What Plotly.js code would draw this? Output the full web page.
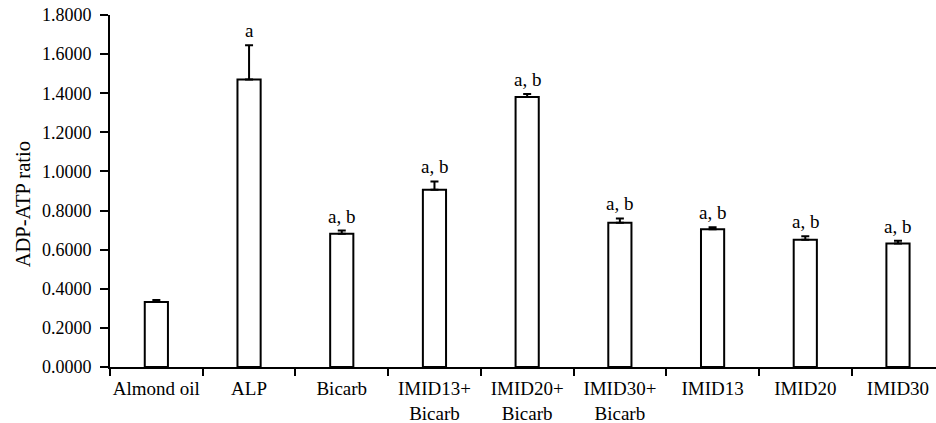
<!DOCTYPE html>
<html>
<head>
<meta charset="utf-8">
<script src="https://cdn.plot.ly/plotly-3.0.1.min.js"></script>
<style>
  html, body { margin: 0; padding: 0; background: #fff; overflow: hidden; }
  #chart { width: 936px; height: 423px; }
</style>
</head>
<body>
<div id="chart"></div>
<script>
const categories = ["Almond oil", "ALP", "Bicarb", "IMID13+<br>Bicarb", "IMID20+<br>Bicarb", "IMID30+<br>Bicarb", "IMID13", "IMID20", "IMID30"];
const ratioValues = [0.333, 1.470, 0.682, 0.907, 1.381, 0.738, 0.704, 0.651, 0.631];
const ratioErrors = [0.010, 0.175, 0.016, 0.042, 0.015, 0.022, 0.010, 0.018, 0.015];
const significance = ["", "a", "a, b", "a, b", "a, b", "a, b", "a, b", "a, b", "a, b"];
const yTicks = [0, 0.2, 0.4, 0.6, 0.8, 1.0, 1.2, 1.4, 1.6, 1.8];
const yTitle = "ADP-ATP ratio";

const font = { family: "Liberation Serif, Times New Roman, serif", color: "#000" };

const trace = {
  type: "bar",
  x: categories,
  y: ratioValues,
  width: 0.25,
  marker: { color: "#ffffff", line: { color: "#000000", width: 2 } },
  error_y: {
    type: "data",
    array: ratioErrors,
    arrayminus: ratioErrors.map(() => 0),
    symmetric: false,
    color: "#000000",
    thickness: 2,
    width: 4
  },
  hoverinfo: "x+y"
};

const annotations = categories.map((c, i) => ({
  x: c,
  y: ratioValues[i] + ratioErrors[i],
  xref: "x",
  yref: "y",
  text: significance[i],
  showarrow: false,
  yanchor: "bottom",
  yshift: 2,
  font: Object.assign({ size: 19 }, font)
})).filter(a => a.text !== "");

annotations.push({
  xref: "paper",
  yref: "paper",
  x: -0.105,
  y: 0.463,
  xanchor: "center",
  yanchor: "middle",
  textangle: -90,
  showarrow: false,
  text: yTitle,
  font: Object.assign({ size: 20.5 }, font)
});

const layout = {
  width: 936,
  height: 423,
  margin: { l: 110, r: 0, t: 15, b: 56, pad: 0 },
  paper_bgcolor: "#ffffff",
  plot_bgcolor: "#ffffff",
  showlegend: false,
  font: Object.assign({ size: 18 }, font),
  xaxis: {
    type: "category",
    range: [-0.5, 8.41],
    showline: true,
    linecolor: "#000",
    linewidth: 2,
    ticks: "outside",
    tickson: "boundaries",
    ticklen: 7,
    tickwidth: 2,
    tickcolor: "#000",
    ticklabelstandoff: 3,
    showgrid: false,
    zeroline: false,
    tickfont: Object.assign({ size: 19 }, font),
    tickangle: 0
  },
  yaxis: {
    range: [0, 1.8],
    tickvals: yTicks,
    ticktext: yTicks.map(v => v.toFixed(4)),
    showline: true,
    linecolor: "#000",
    linewidth: 2,
    ticks: "outside",
    ticklen: 8,
    tickwidth: 2,
    tickcolor: "#000",
    ticklabelstandoff: 5,
    showgrid: false,
    zeroline: false,
    tickfont: Object.assign({ size: 18 }, font)
  },
  annotations: annotations
};

Plotly.newPlot("chart", [trace], layout, { displayModeBar: false, staticPlot: true });
</script>
</body>
</html>
